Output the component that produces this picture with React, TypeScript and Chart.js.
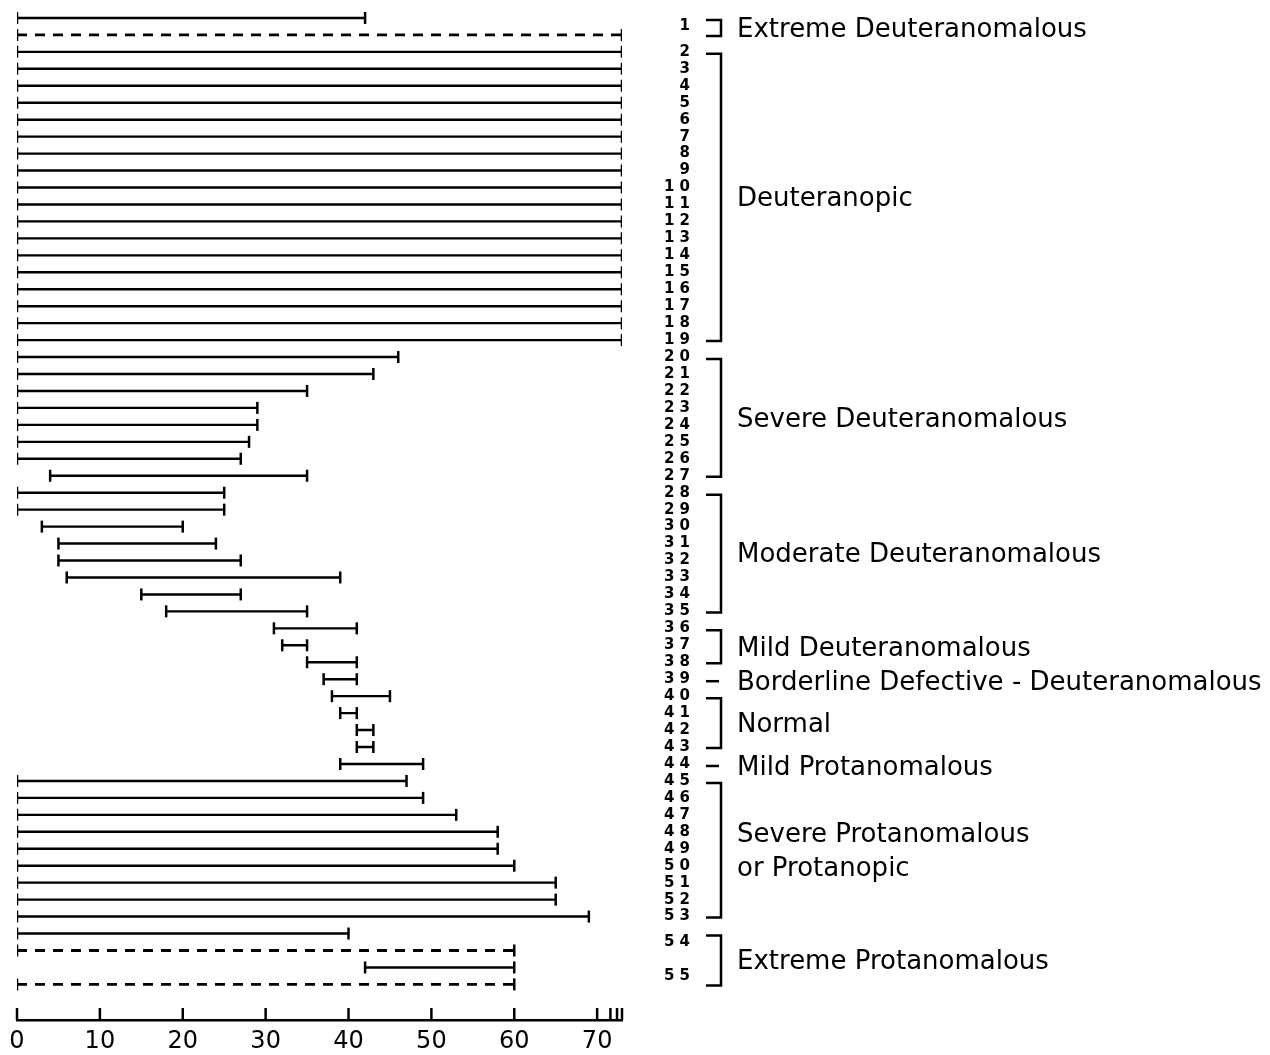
import React, { useEffect, useRef } from "react";
import { Chart, registerables } from "chart.js";

Chart.register(...registerables);

// ---------- data ----------
const subjectIds = [
  1, 2, 3, 4, 5, 6, 7, 8, 9, 10, 11, 12, 13, 14, 15, 16, 17, 18, 19, 20,
  21, 22, 23, 24, 25, 26, 27, 28, 29, 30, 31, 32, 33, 34, 35, 36, 37, 38, 39, 40,
  41, 42, 43, 44, 45, 46, 47, 48, 49, 50, 51, 52, 53, 54, 55,
];

// first (solid) matching range per subject
const testOneLow = [
  0, 0, 0, 0, 0, 0, 0, 0, 0, 0, 0, 0, 0, 0, 0, 0, 0, 0, 0, 0,
  0, 0, 0, 0, 0, 0, 4, 0, 0, 3, 5, 5, 6, 15, 18, 31, 32, 35, 37, 38,
  39, 41, 41, 39, 0, 0, 0, 0, 0, 0, 0, 0, 0, 0, 42,
];
const testOneHigh = [
  42, 73, 73, 73, 73, 73, 73, 73, 73, 73, 73, 73, 73, 73, 73, 73, 73, 73, 73, 46,
  43, 35, 29, 29, 28, 27, 35, 25, 25, 20, 24, 27, 39, 27, 35, 41, 35, 41, 41, 45,
  41, 43, 43, 49, 47, 49, 53, 58, 58, 60, 65, 65, 69, 40, 60,
];

// second (dashed) range for a few subjects
const testTwoIds = [1, 54, 55];
const testTwoLow = [0, 0, 0];
const testTwoHigh = [73, 60, 60];

// diagnostic groups
const groupNames = [
  ["Extreme Deuteranomalous"],
  ["Deuteranopic"],
  ["Severe Deuteranomalous"],
  ["Moderate Deuteranomalous"],
  ["Mild Deuteranomalous"],
  ["Borderline Defective - Deuteranomalous"],
  ["Normal"],
  ["Mild Protanomalous"],
  ["Severe Protanomalous", "or Protanopic"],
  ["Extreme Protanomalous"],
];
const groupFirstId = [1, 2, 20, 28, 36, 39, 40, 44, 45, 54];
const groupLastId = [1, 19, 27, 35, 38, 39, 43, 44, 53, 55];

const xMajorTicks = [0, 10, 20, 30, 40, 50, 60, 70];
const xMinorTicks = [71.6, 72.4, 73];
const xMax = 73;

// ---------- row layout ----------
type RowInfo = { one: number; two: number | null; first: number; last: number };
function buildRows() {
  const rows: Record<number, RowInfo> = {};
  let r = 0;
  subjectIds.forEach((id) => {
    const one = r++;
    const two = testTwoIds.includes(id) ? r++ : null;
    rows[id] = { one, two, first: one, last: two === null ? one : two };
  });
  return { rows, count: r };
}

export default function App() {
  const canvasRef = useRef<HTMLCanvasElement | null>(null);

  useEffect(() => {
    const canvas = canvasRef.current;
    if (!canvas) return;
    const { rows } = buildRows();

    const solidData: any[] = [];
    subjectIds.forEach((id, i) => {
      const row = rows[id].one;
      solidData.push({ x: testOneLow[i], y: row }, { x: testOneHigh[i], y: row }, { x: null, y: null });
    });
    const dashedData: any[] = [];
    testTwoIds.forEach((id, i) => {
      const row = rows[id].two as number;
      dashedData.push({ x: testTwoLow[i], y: row }, { x: testTwoHigh[i], y: row }, { x: null, y: null });
    });

    const labelRows = subjectIds.map((id) => (rows[id].first + rows[id].last) / 2);
    const labelTexts = subjectIds.map((id) => (id < 10 ? String(id) : String(id).split("").join(" ")));

    const groupsPlugin = {
      id: "groupsPlugin",
      afterDraw(chart: any) {
        const ctx = chart.ctx;
        const xs = chart.scales.x;
        const ys = chart.scales.y;
        const area = chart.chartArea;
        ctx.save();
        ctx.strokeStyle = "#000";
        ctx.fillStyle = "#000";
        ctx.lineWidth = 2.5;
        ctx.lineCap = "butt";
        // upward tick marks on the x axis
        xs.ticks.forEach((t: any) => {
          const px = xs.getPixelForValue(t.value);
          ctx.beginPath();
          ctx.moveTo(px, area.bottom);
          ctx.lineTo(px, area.bottom - 12);
          ctx.stroke();
        });
        // brackets and group names
        const armL = ys.right + 16;
        const armR = ys.right + 31;
        const textX = ys.right + 47;
        ctx.font = "26px 'DejaVu Sans'";
        ctx.textBaseline = "middle";
        ctx.textAlign = "left";
        groupNames.forEach((lines, gi) => {
          const r0 = rows[groupFirstId[gi]].first;
          const r1 = rows[groupLastId[gi]].last;
          let mid: number;
          ctx.beginPath();
          if (r0 === r1) {
            const py = ys.getPixelForValue(r0) + 2;
            ctx.moveTo(armL, py);
            ctx.lineTo(armR - 2, py);
            mid = py + 2;
          } else {
            const top = ys.getPixelForValue(r0) + 2;
            const bot = ys.getPixelForValue(r1) + 1;
            ctx.moveTo(armL, top);
            ctx.lineTo(armR, top);
            ctx.lineTo(armR, bot);
            ctx.lineTo(armL, bot);
            mid = (top + bot) / 2 + 2;
          }
          ctx.stroke();
          lines.forEach((line, li) => {
            ctx.fillText(line, textX, mid + (li - (lines.length - 1) / 2) * 34);
          });
        });
        ctx.restore();
      },
    };

    const chart = new Chart(canvas, {
      type: "scatter",
      data: {
        datasets: [
          {
            data: solidData,
            showLine: true,
            borderColor: "#000",
            borderWidth: 2.4,
            pointStyle: "line",
            pointRotation: 90,
            pointRadius: 6,
            pointBorderWidth: 2.5,
            pointBorderColor: "#000",
            pointBackgroundColor: "#000",
            spanGaps: false,
          },
          {
            data: dashedData,
            showLine: true,
            borderColor: "#000",
            borderWidth: 2.8,
            borderDash: [10, 8],
            pointStyle: "line",
            pointRotation: 90,
            pointRadius: 6,
            pointBorderWidth: 2.5,
            pointBorderColor: "#000",
            pointBackgroundColor: "#000",
            spanGaps: false,
          },
        ],
      },
      options: {
        animation: false,
        responsive: true,
        maintainAspectRatio: false,
        layout: { autoPadding: false, padding: { left: 17, top: 1, right: 580, bottom: 0 } },
        plugins: { legend: { display: false }, tooltip: { enabled: false } },
        scales: {
          x: {
            type: "linear",
            position: "bottom",
            min: 0,
            max: xMax,
            grid: { display: false, drawTicks: false },
            border: { display: true, color: "#000", width: 2.5 },
            afterBuildTicks: (scale: any) => {
              scale.ticks = [...xMajorTicks, ...xMinorTicks].map((v) => ({ value: v }));
            },
            afterFit: (scale: any) => {
              scale.height = 35;
            },
            ticks: {
              autoSkip: false,
              maxRotation: 0,
              padding: 7,
              color: "#000",
              font: { family: "'DejaVu Sans'", size: 24 },
              callback: (value: any) => (xMajorTicks.includes(Number(value)) ? String(value) : ""),
            },
          },
          y: {
            type: "linear",
            position: "right",
            reverse: true,
            min: -1,
            max: 59.1,
            grid: { display: false, drawTicks: false },
            border: { display: false },
            afterBuildTicks: (scale: any) => {
              scale.ticks = labelRows.map((v) => ({ value: v }));
            },
            afterFit: (scale: any) => {
              scale.width = 68;
              scale.paddingTop = 0;
              scale.paddingBottom = 0;
            },
            ticks: {
              autoSkip: false,
              crossAlign: "far",
              padding: 40,
              color: "#000",
              font: { family: "'DejaVu Sans'", size: 15, weight: "bold" },
              callback: (_v: any, index: number) => labelTexts[index] ?? "",
            },
          },
        },
      },
      plugins: [groupsPlugin],
    } as any);

    return () => {
      chart.destroy();
    };
  }, []);

  return (
    <div style={{ position: "fixed", left: 0, top: 0, width: 1270, height: 1055, background: "#fff" }}>
      <canvas ref={canvasRef} />
    </div>
  );
}
